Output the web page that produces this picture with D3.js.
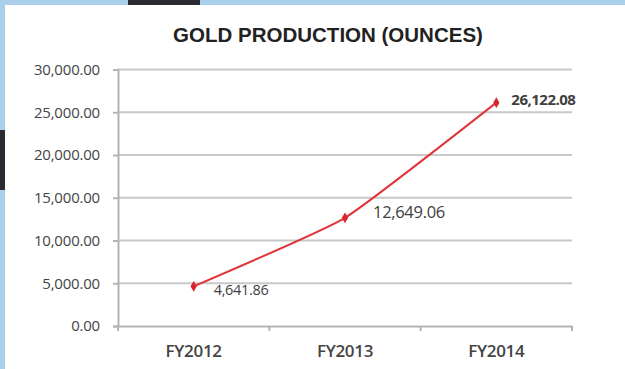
<!DOCTYPE html>
<html>
<head>
<meta charset="utf-8">
<script src="https://cdn.jsdelivr.net/npm/d3@7"></script>
<style>
  html, body { margin: 0; padding: 0; background: #a9cfea; }
  #chart { width: 625px; height: 369px; overflow: hidden; }
</style>
</head>
<body>
<div id="chart"></div>
<script>
// Data
const years = ["FY2012", "FY2013", "FY2014"]
const ounces = [4641.86, 12649.06, 26122.08]
const yTicks = [0, 5000, 10000, 15000, 20000, 25000, 30000]

const width = 625
const height = 369
const margin = { top: 69.5, right: 53, bottom: 43, left: 118 }

const svg = d3
  .select("#chart")
  .append("svg")
  .attr("width", width)
  .attr("height", height)

// Light blue backdrop, a bit of the dark photo, then the white panel
svg.append("rect").attr("width", width).attr("height", height).attr("fill", "#a9cfea")
svg.append("rect").attr("x", 128).attr("y", 0).attr("width", 72).attr("height", 5).attr("fill", "#2b2a30")
svg.append("rect").attr("x", 0).attr("y", 130).attr("width", 5).attr("height", 60).attr("fill", "#2b2a30")
svg.append("rect").attr("x", 5).attr("y", 5).attr("width", width - 5).attr("height", height - 5).attr("fill", "#fff")

const x = d3
  .scaleBand()
  .domain(years)
  .range([margin.left, width - margin.right])

const y = d3
  .scaleLinear()
  .domain([0, 30000])
  .range([height - margin.bottom, margin.top])

const fmt = d3.format(",.2f")

// Title
svg
  .append("text")
  .attr("x", 328)
  .attr("y", 42)
  .attr("text-anchor", "middle")
  .attr("font-family", "Liberation Sans, Arial, sans-serif")
  .attr("font-weight", "bold")
  .attr("font-size", 20.5)
  .attr("fill", "#222")
  .text("GOLD PRODUCTION (OUNCES)")

// Gridlines
svg
  .append("g")
  .selectAll("line")
  .data(yTicks.filter((d) => d > 0))
  .join("line")
  .attr("x1", margin.left)
  .attr("x2", width - margin.right)
  .attr("y1", (d) => y(d))
  .attr("y2", (d) => y(d))
  .attr("stroke", "#c8c8c8")
  .attr("stroke-width", 2)

// Y axis
const yAxis = svg
  .append("g")
  .attr("transform", `translate(${margin.left},0)`)
  .call(d3.axisLeft(y).tickValues(yTicks).tickFormat(fmt).tickSize(5).tickPadding(13))
yAxis.select(".domain").attr("stroke", "#b4b4b4").attr("stroke-width", 2)
yAxis.selectAll(".tick line").attr("stroke", "#b4b4b4").attr("stroke-width", 2)
yAxis
  .selectAll(".tick text")
  .attr("font-family", "Open Sans, sans-serif")
  .attr("font-size", 15)
  .attr("letter-spacing", -0.2)
  .attr("fill", "#444")

// X axis, ticks at the band edges
const xAxis = svg
  .append("g")
  .attr("transform", `translate(0,${height - margin.bottom})`)
  .call(d3.axisBottom(x).tickSize(0).tickPadding(19))
xAxis.select(".domain").attr("stroke", "#b4b4b4").attr("stroke-width", 2)
xAxis
  .selectAll(".tick text")
  .attr("font-family", "Open Sans, sans-serif")
  .attr("font-weight", 600)
  .attr("font-size", 17)
  .attr("letter-spacing", -0.3)
  .attr("fill", "#444")
xAxis
  .selectAll("line.edge")
  .data(years.map((d) => x(d)).concat([width - margin.right]))
  .join("line")
  .attr("class", "edge")
  .attr("x1", (d) => d)
  .attr("x2", (d) => d)
  .attr("y1", 0)
  .attr("y2", 5)
  .attr("stroke", "#b4b4b4")
  .attr("stroke-width", 2)

// Line
const cx = (d, i) => x(years[i]) + x.bandwidth() / 2
const line = d3
  .line()
  .x(cx)
  .y((d) => y(d))
  .curve(d3.curveCardinal.tension(0.6))

svg
  .append("path")
  .datum(ounces)
  .attr("d", line)
  .attr("fill", "none")
  .attr("stroke", "#e0353a")
  .attr("stroke-width", 2)

// Diamond markers
svg
  .append("g")
  .selectAll("path")
  .data(ounces)
  .join("path")
  .attr("d", d3.symbol(d3.symbolDiamond, 34))
  .attr("transform", (d, i) => `translate(${cx(d, i)},${y(d)})`)
  .attr("fill", "#d8242c")

// Data labels
const labelStyle = [
  { dx: 20, dy: 4, size: 14.5, weight: "normal" },
  { dx: 28, dy: -5, size: 16.5, weight: "normal" },
  { dx: 15, dy: -3, size: 15, weight: "bold" }
]
svg
  .append("g")
  .selectAll("text")
  .data(ounces)
  .join("text")
  .attr("x", (d, i) => cx(d, i) + labelStyle[i].dx)
  .attr("y", (d) => y(d))
  .attr("dy", (d, i) => labelStyle[i].dy + 5)
  .attr("font-family", "Open Sans, sans-serif")
  .attr("font-size", (d, i) => labelStyle[i].size)
  .attr("font-weight", (d, i) => labelStyle[i].weight)
  .attr("letter-spacing", (d, i) => (i === 2 ? -0.5 : -0.3))
  .attr("fill", "#404040")
  .text((d) => fmt(d))
</script>
</body>
</html>
